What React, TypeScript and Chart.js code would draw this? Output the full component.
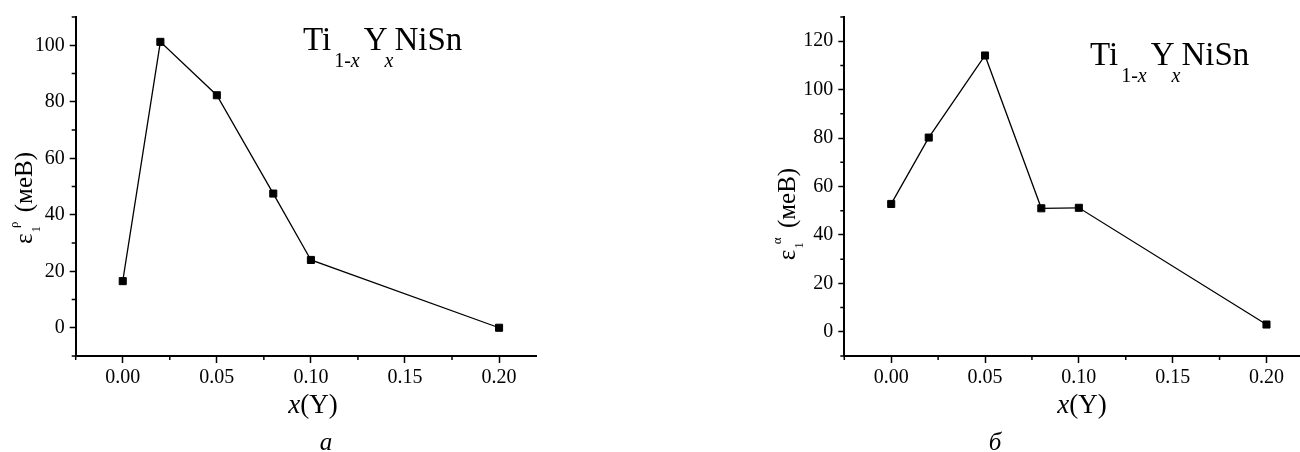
import React, { useEffect, useRef } from "react";
import { Chart, registerables } from "chart.js";

Chart.register(...registerables);

// ---- data ----
const xValues = [0, 0.02, 0.05, 0.08, 0.1, 0.2];
const rhoValues = [16.5, 101.2, 82.3, 47.5, 24.0, 0];
const alphaValues = [52.8, 80.2, 114.1, 51.0, 51.2, 3.0];

const xMajorTicks = [0, 0.05, 0.1, 0.15, 0.2];
const xMinorTicks = [-0.025, 0.025, 0.075, 0.125, 0.175];
const yMajorLeft = [0, 20, 40, 60, 80, 100];
const yMinorLeft = [-10, 10, 30, 50, 70, 90, 110];
const yMajorRight = [0, 20, 40, 60, 80, 100, 120];
const yMinorRight = [-10, 10, 30, 50, 70, 90, 110, 130];

const SERIF = "'Liberation Serif', 'Times New Roman', serif";

type Seg = { text: string; size: number; italic?: boolean; dy?: number; dx?: number };

function segWidth(ctx: CanvasRenderingContext2D, segs: Seg[]) {
  let w = 0;
  for (const s of segs) {
    ctx.font = `${s.italic ? "italic " : ""}${s.size}px ${SERIF}`;
    w += ctx.measureText(s.text).width + (s.dx || 0);
  }
  return w;
}

function drawSegs(ctx: CanvasRenderingContext2D, segs: Seg[], x: number, y: number) {
  let cx = x;
  ctx.textBaseline = "alphabetic";
  ctx.textAlign = "left";
  for (const s of segs) {
    cx += s.dx || 0;
    ctx.font = `${s.italic ? "italic " : ""}${s.size}px ${SERIF}`;
    ctx.fillText(s.text, cx, y + (s.dy || 0));
    cx += ctx.measureText(s.text).width;
  }
}

const minorTickPlugin = {
  id: "minorTicks",
  afterDraw(chart: any, _args: any, opts: any) {
    const { ctx, chartArea, scales } = chart;
    ctx.save();
    ctx.strokeStyle = "#000";
    ctx.lineWidth = 1.5;
    ctx.beginPath();
    for (const v of opts.x || []) {
      const px = scales.x.getPixelForValue(v);
      ctx.moveTo(px, chartArea.bottom);
      ctx.lineTo(px, chartArea.bottom + 4);
    }
    for (const v of opts.y || []) {
      const py = scales.y.getPixelForValue(v);
      ctx.moveTo(chartArea.left - 4, py);
      ctx.lineTo(chartArea.left, py);
    }
    ctx.stroke();
    ctx.restore();
  },
};

const panelTextPlugin = {
  id: "panelText",
  afterDraw(chart: any, _args: any, o: any) {
    const ctx: CanvasRenderingContext2D = chart.ctx;
    ctx.save();
    ctx.fillStyle = "#000";
    // formula Ti1-xYxNiSn
    const formula: Seg[] = [
      { text: "Ti", size: 33 },
      { text: "1-", size: 20, dy: 17, dx: 3 },
      { text: "x", size: 20, dy: 17, italic: true },
      { text: "Y", size: 33, dx: 4 },
      { text: "x", size: 20, dy: 17, italic: true, dx: -3 },
      { text: "NiSn", size: 33, dx: 1 },
    ];
    drawSegs(ctx, formula, o.formulaX, o.formulaY);

    // y title (rotated)
    const ytitle: Seg[] = [
      { text: "ε", size: 25 },
      { text: "1", size: 13, dy: 8, dx: 1 },
      { text: o.sup, size: 13, dy: -14, dx: -2 },
      { text: " (меВ)", size: 25, dx: 3 },
    ];
    ctx.save();
    ctx.translate(o.yTitleX, o.yTitleY);
    ctx.rotate(-Math.PI / 2);
    const w = segWidth(ctx, ytitle);
    drawSegs(ctx, ytitle, -w / 2, 0);
    ctx.restore();

    // x title
    const xtitle: Seg[] = [
      { text: "x", size: 27, italic: true },
      { text: "(Y)", size: 27 },
    ];
    const xw = segWidth(ctx, xtitle);
    drawSegs(ctx, xtitle, o.xTitleX - xw / 2, o.xTitleY);

    // caption
    ctx.font = `italic 25px ${SERIF}`;
    ctx.textAlign = "center";
    ctx.textBaseline = "alphabetic";
    ctx.fillText(o.caption, o.captionX, o.captionY);
    ctx.restore();
  },
};

type PanelProps = {
  left: number;
  width: number;
  yAxisWidth: number;
  padRight: number;
  yValues: number[];
  yMax: number;
  yMajor: number[];
  yMinor: number[];
  text: any;
};

function Panel(p: PanelProps) {
  const ref = useRef<HTMLCanvasElement | null>(null);
  useEffect(() => {
    if (!ref.current) return;
    const tickFont = { family: SERIF, size: 20 };
    const chart = new Chart(ref.current, {
      type: "line",
      data: {
        datasets: [
          {
            data: xValues.map((x, i) => ({ x, y: p.yValues[i] })),
            borderColor: "#000",
            borderWidth: 1.3,
            pointStyle: "rect",
            pointRadius: 5,
            pointBackgroundColor: "#000",
            pointBorderColor: "#000",
            pointBorderWidth: 1,
            tension: 0,
          },
        ],
      },
      options: {
        animation: false,
        responsive: false,
        maintainAspectRatio: false,
        layout: { padding: { top: 15, right: p.padRight, left: 0, bottom: 0 } },
        plugins: {
          legend: { display: false },
          tooltip: { enabled: false },
          minorTicks: { x: xMinorTicks, y: p.yMinor },
          panelText: p.text,
        } as any,
        scales: {
          x: {
            type: "linear",
            min: -0.025,
            max: 0.22,
            afterBuildTicks: (s: any) => {
              s.ticks = xMajorTicks.map((v) => ({ value: v }));
            },
            afterFit: (s: any) => {
              s.height = 96;
            },
            grid: { drawOnChartArea: false, drawTicks: true, tickLength: 7, tickWidth: 1.5, tickColor: "#000" },
            border: { display: true, color: "#000", width: 2 },
            ticks: {
              padding: 3,
              color: "#000",
              font: tickFont,
              maxRotation: 0,
              autoSkip: false,
              callback: (v: any) => Number(v).toFixed(2),
            },
          },
          y: {
            type: "linear",
            min: -10,
            max: p.yMax,
            afterBuildTicks: (s: any) => {
              s.ticks = p.yMajor.map((v) => ({ value: v }));
            },
            afterFit: (s: any) => {
              s.width = p.yAxisWidth;
            },
            grid: { drawOnChartArea: false, drawTicks: true, tickLength: 6, tickWidth: 1.5, tickColor: "#000" },
            border: { display: true, color: "#000", width: 2 },
            ticks: {
              padding: 5,
              color: "#000",
              font: tickFont,
              autoSkip: false,
              callback: (v: any) => String(v),
            },
          },
        },
      } as any,
      plugins: [minorTickPlugin, panelTextPlugin] as any,
    });
    return () => chart.destroy();
  }, []);
  return (
    <canvas
      ref={ref}
      width={p.width}
      height={452}
      style={{ position: "absolute", left: p.left, top: 0, width: p.width, height: 452 }}
    />
  );
}

export default function App() {
  return (
    <div
      style={{
        position: "fixed",
        left: 0,
        top: 0,
        width: 1300,
        height: 452,
        overflow: "hidden",
        background: "#fff",
      }}
    >
      <Panel
        left={0}
        width={560}
        yAxisWidth={75.7}
        padRight={23.3}
        yValues={rhoValues}
        yMax={110}
        yMajor={yMajorLeft}
        yMinor={yMinorLeft}
        text={{
          formulaX: 303,
          formulaY: 50,
          sup: "ρ",
          yTitleX: 32,
          yTitleY: 198,
          xTitleX: 313,
          xTitleY: 413,
          caption: "a",
          captionX: 326,
          captionY: 450,
        }}
      />
      <Panel
        left={740}
        width={570}
        yAxisWidth={104.3}
        padRight={4.7}
        yValues={alphaValues}
        yMax={130}
        yMajor={yMajorRight}
        yMinor={yMinorRight}
        text={{
          formulaX: 350,
          formulaY: 65,
          sup: "α",
          yTitleX: 55,
          yTitleY: 214,
          xTitleX: 342,
          xTitleY: 413,
          caption: "б",
          captionX: 255,
          captionY: 450,
        }}
      />
    </div>
  );
}
